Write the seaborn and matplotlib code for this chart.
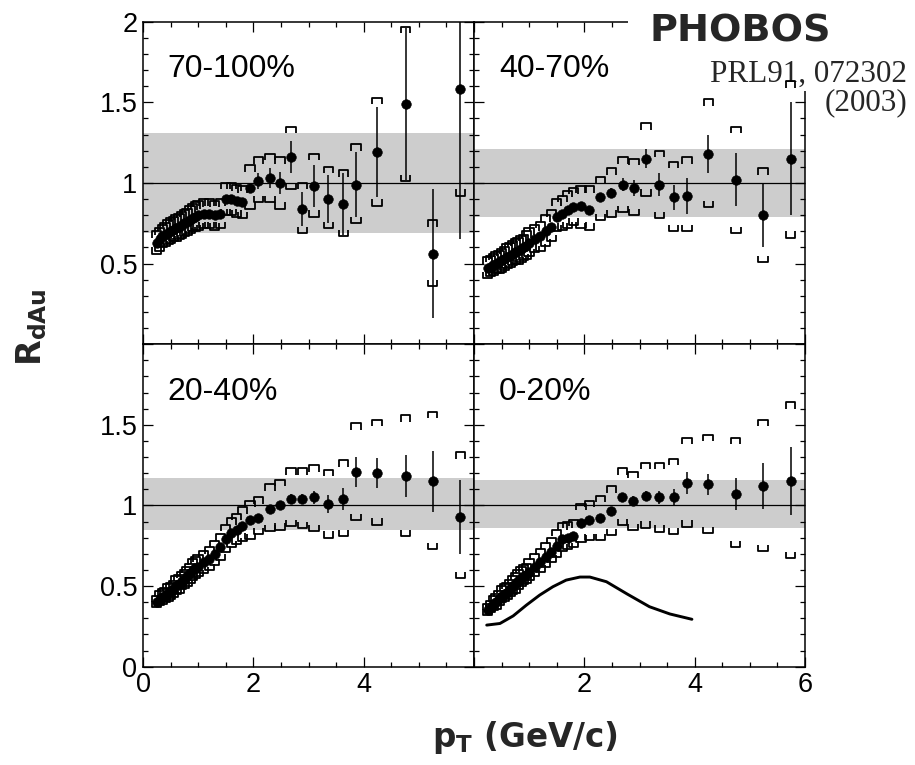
import numpy as np
import pandas as pd
import matplotlib
matplotlib.use("Agg")
import matplotlib.pyplot as plt
import seaborn as sns
from matplotlib.collections import LineCollection
from matplotlib.ticker import FixedLocator, FixedFormatter, MultipleLocator

# ---------------- data ----------------
centralities = ["70-100%", "40-70%", "20-40%", "0-20%"]

pt_low = [0.25, 0.30, 0.35, 0.40, 0.45, 0.50, 0.55, 0.60, 0.65, 0.70, 0.75, 0.80,
          0.85, 0.90, 0.95, 1.00, 1.10, 1.20, 1.30, 1.40, 1.50, 1.60, 1.70, 1.80]
stat_low = [0.01] * 24

# 70-100%
pt_a = pt_low + [1.94, 2.09, 2.30, 2.48, 2.68, 2.89, 3.10, 3.36, 3.63, 3.86, 4.24, 4.76, 5.25, 5.75]
val_a = [0.63, 0.65, 0.67, 0.68, 0.69, 0.70, 0.71, 0.72, 0.73, 0.74, 0.75, 0.76, 0.77, 0.78, 0.79, 0.80,
         0.81, 0.81, 0.80, 0.81, 0.90, 0.90, 0.89, 0.88,
         0.97, 1.01, 1.03, 1.00, 1.16, 0.84, 0.98, 0.90, 0.87, 0.99, 1.19, 1.49, 0.56, 1.58]
stat_a = stat_low + [0.03, 0.05, 0.06, 0.07, 0.10, 0.105, 0.13, 0.15, 0.19, 0.20, 0.28, 0.47, 0.40, 0.93]
hi_a = [0.70, 0.72, 0.74, 0.75, 0.77, 0.78, 0.79, 0.80, 0.81, 0.82, 0.83, 0.84, 0.86, 0.87, 0.88, 0.89,
        0.90, 0.90, 0.89, 0.90, 1.00, 1.00, 0.99, 0.98,
        1.11, 1.16, 1.18, 1.16, 1.35, 1.00, 1.18, 1.10, 1.08, 1.24, 1.53, 1.97, 0.77, 2.20]
lo_a = [0.56, 0.58, 0.60, 0.61, 0.62, 0.63, 0.64, 0.64, 0.65, 0.66, 0.67, 0.68, 0.69, 0.70, 0.70, 0.71,
        0.72, 0.72, 0.71, 0.72, 0.80, 0.80, 0.79, 0.78,
        0.84, 0.88, 0.88, 0.84, 0.96, 0.69, 0.79, 0.72, 0.67, 0.75, 0.86, 1.01, 0.36, 0.92]

# 40-70%
pt_b = pt_low + [1.94, 2.09, 2.29, 2.49, 2.70, 2.90, 3.12, 3.36, 3.62, 3.86, 4.25, 4.75, 5.24, 5.74]
val_b = [0.47, 0.48, 0.49, 0.50, 0.51, 0.52, 0.53, 0.54, 0.55, 0.56, 0.57, 0.58, 0.59, 0.60, 0.61, 0.63,
         0.65, 0.67, 0.70, 0.73, 0.79, 0.81, 0.83, 0.85,
         0.86, 0.83, 0.91, 0.94, 0.99, 0.97, 1.15, 0.99, 0.91, 0.92, 1.18, 1.02, 0.80, 1.15]
stat_b = stat_low + [0.02, 0.02, 0.03, 0.03, 0.04, 0.05, 0.06, 0.07, 0.08, 0.11, 0.12, 0.165, 0.20, 0.35]
hi_b = [0.54, 0.55, 0.56, 0.57, 0.58, 0.59, 0.60, 0.62, 0.63, 0.64, 0.65, 0.66, 0.67, 0.68, 0.70, 0.72,
        0.74, 0.76, 0.80, 0.83, 0.90, 0.92, 0.95, 0.97,
        0.98, 0.98, 1.04, 1.09, 1.16, 1.15, 1.37, 1.20, 1.13, 1.16, 1.52, 1.35, 1.09, 1.63]
lo_b = [0.41, 0.42, 0.43, 0.44, 0.44, 0.45, 0.46, 0.47, 0.48, 0.49, 0.50, 0.50, 0.51, 0.52, 0.53, 0.55,
        0.57, 0.58, 0.61, 0.64, 0.70, 0.71, 0.72, 0.74,
        0.72, 0.71, 0.77, 0.79, 0.82, 0.80, 0.92, 0.78, 0.70, 0.70, 0.85, 0.69, 0.51, 0.66]

# 20-40%
pt_c = pt_low + [1.94, 2.09, 2.30, 2.48, 2.68, 2.89, 3.10, 3.36, 3.63, 3.86, 4.24, 4.76, 5.25, 5.75]
val_c = [0.40, 0.42, 0.43, 0.44, 0.46, 0.47, 0.48, 0.50, 0.51, 0.53, 0.54, 0.56, 0.58, 0.60, 0.61, 0.62,
         0.65, 0.67, 0.70, 0.74, 0.79, 0.83, 0.85, 0.87,
         0.91, 0.92, 0.98, 1.00, 1.04, 1.04, 1.05, 1.01, 1.04, 1.21, 1.20, 1.18, 1.15, 0.93]
stat_c = stat_low + [0.02, 0.02, 0.02, 0.03, 0.03, 0.03, 0.04, 0.055, 0.07, 0.093, 0.093, 0.13, 0.19, 0.23]
hi_c = [0.44, 0.47, 0.48, 0.49, 0.51, 0.52, 0.53, 0.56, 0.57, 0.59, 0.60, 0.62, 0.64, 0.67, 0.68, 0.69,
        0.72, 0.74, 0.78, 0.82, 0.88, 0.92, 0.95, 0.99,
        1.03, 1.05, 1.13, 1.16, 1.23, 1.23, 1.25, 1.22, 1.28, 1.51, 1.53, 1.56, 1.58, 1.33]
lo_c = [0.37, 0.38, 0.39, 0.40, 0.41, 0.42, 0.43, 0.45, 0.46, 0.48, 0.49, 0.50, 0.52, 0.54, 0.55, 0.56,
        0.58, 0.60, 0.63, 0.66, 0.71, 0.74, 0.76, 0.78,
        0.79, 0.82, 0.84, 0.85, 0.87, 0.86, 0.84, 0.80, 0.81, 0.91, 0.88, 0.81, 0.73, 0.55]

# 0-20%
pt_d = pt_low + [1.94, 2.09, 2.29, 2.49, 2.69, 2.88, 3.11, 3.36, 3.62, 3.86, 4.24, 4.74, 5.24, 5.74]
val_d = [0.35, 0.37, 0.39, 0.40, 0.42, 0.44, 0.45, 0.46, 0.48, 0.50, 0.51, 0.53, 0.55, 0.56, 0.57, 0.59,
         0.62, 0.65, 0.68, 0.71, 0.75, 0.79, 0.80, 0.81,
         0.89, 0.91, 0.92, 0.965, 1.05, 1.03, 1.06, 1.05, 1.05, 1.14, 1.13, 1.07, 1.12, 1.15]
stat_d = stat_low + [0.02, 0.02, 0.02, 0.02, 0.025, 0.03, 0.03, 0.04, 0.05, 0.07, 0.067, 0.10, 0.145, 0.21]
hi_d = [0.39, 0.41, 0.44, 0.45, 0.47, 0.50, 0.51, 0.52, 0.54, 0.56, 0.58, 0.60, 0.62, 0.63, 0.64, 0.67,
        0.70, 0.73, 0.77, 0.80, 0.85, 0.89, 0.90, 0.91,
        1.01, 1.03, 1.06, 1.12, 1.23, 1.21, 1.265, 1.265, 1.29, 1.42, 1.44, 1.42, 1.53, 1.64]
lo_d = [0.32, 0.34, 0.35, 0.36, 0.38, 0.40, 0.41, 0.42, 0.44, 0.45, 0.46, 0.48, 0.50, 0.51, 0.52, 0.54,
        0.56, 0.59, 0.62, 0.65, 0.68, 0.72, 0.73, 0.74,
        0.775, 0.785, 0.785, 0.816, 0.878, 0.847, 0.862, 0.837, 0.823, 0.868, 0.827, 0.74, 0.717, 0.672]

# normalisation uncertainty bands (grey)
band_lo = [0.69, 0.79, 0.85, 0.86]
band_hi = [1.31, 1.21, 1.17, 1.16]

# theory curve (0-20%)
theory_pt = [0.23, 0.47, 0.71, 0.95, 1.19, 1.43, 1.67, 1.92, 2.10, 2.40, 2.78, 3.18, 3.55, 3.95]
theory_r = [0.258, 0.268, 0.315, 0.382, 0.444, 0.496, 0.537, 0.556, 0.556, 0.527, 0.45, 0.372, 0.327, 0.294]

# ticks / labels
xticks = [0, 2, 4, 6]
yticks = [0, 0.5, 1, 1.5, 2]
xlabels_left = ["0", "2", "4", ""]
xlabels_right = ["", "2", "4", "6"]
ylabels_top = ["", "0.5", "1", "1.5", "2"]
ylabels_bottom = ["0", "0.5", "1", "1.5", ""]

series = [
    (pt_a, val_a, stat_a, hi_a, lo_a),
    (pt_b, val_b, stat_b, hi_b, lo_b),
    (pt_c, val_c, stat_c, hi_c, lo_c),
    (pt_d, val_d, stat_d, hi_d, lo_d),
]

# ---------------- style ----------------
sns.set_theme(style="ticks")
plt.rcParams["font.family"] = ["Liberation Sans", "DejaVu Sans"]
plt.rcParams["mathtext.fontset"] = "custom"
plt.rcParams["mathtext.bf"] = "DejaVu Sans:bold"
plt.rcParams["mathtext.rm"] = "DejaVu Sans"
plt.rcParams["axes.linewidth"] = 1.1
plt.rcParams["axes.edgecolor"] = "black"

fig, axes = plt.subplots(2, 2, figsize=(9.15, 7.65), dpi=100)
fig.subplots_adjust(left=0.1563, right=0.8798, bottom=0.1285, top=0.9716, wspace=0, hspace=0)
axes = axes.ravel()

bw = 0.085   # bracket half width (data units)
bh = 0.04    # bracket leg height (data units)

for i, ax in enumerate(axes):
    pt, val, stat, hi, lo = series[i]
    df = pd.DataFrame({"pt": pt, "val": val, "stat": stat, "hi": hi, "lo": lo})

    ax.axhspan(band_lo[i], band_hi[i], color="#cdcdcd", lw=0, zorder=0.2)
    ax.axhline(1.0, color="black", lw=0.9, zorder=0.6)

    segs = []
    for x, h, l in zip(df.pt, df.hi, df.lo):
        segs.append([(x - bw, h - bh), (x - bw, h), (x + bw, h), (x + bw, h - bh)])
        segs.append([(x - bw, l + bh), (x - bw, l), (x + bw, l), (x + bw, l + bh)])
    ax.add_collection(LineCollection(segs, colors="black", linewidths=1.3, zorder=3))

    ax.vlines(df.pt, df.val - df.stat, df.val + df.stat, color="black", lw=1.1, zorder=4)
    sns.scatterplot(data=df, x="pt", y="val", ax=ax, color="black", s=48,
                    edgecolor="black", linewidth=0.4, zorder=5, legend=False)

    if i == 3:
        sns.lineplot(x=theory_pt, y=theory_r, ax=ax, color="black", lw=2.1, zorder=4)

    ax.set_xlim(0, 6)
    ax.set_ylim(0, 2)
    ax.set_xlabel("")
    ax.set_ylabel("")
    ax.xaxis.set_major_locator(FixedLocator(xticks))
    ax.xaxis.set_minor_locator(MultipleLocator(0.5))
    ax.yaxis.set_major_locator(FixedLocator(yticks))
    ax.yaxis.set_minor_locator(MultipleLocator(0.1))
    ax.tick_params(which="both", direction="in", top=True, right=True, bottom=True, left=True,
                   color="black", width=0.9, labelsize=19.5, labelcolor="black", pad=4)
    ax.tick_params(which="major", length=7.5)
    ax.tick_params(which="minor", length=3.5)

    row, col = divmod(i, 2)
    if row == 1:
        ax.xaxis.set_major_formatter(FixedFormatter(xlabels_left if col == 0 else xlabels_right))
    else:
        ax.tick_params(labelbottom=False)
    if col == 0:
        ax.yaxis.set_major_formatter(FixedFormatter(ylabels_top if row == 0 else ylabels_bottom))
    else:
        ax.tick_params(labelleft=False)
    for sp in ax.spines.values():
        sp.set_visible(True)
        sp.set_color("black")
        sp.set_linewidth(1.1)

    ax.text(0.45, 1.655, centralities[i], fontsize=23, color="black", ha="left", va="baseline",
            zorder=6)

# annotation boxes (white background hides the frame corner)
axb = axes[1]
axb.text(740 / 915, 1 - 42 / 765, "PHOBOS", transform=fig.transFigure, fontsize=27.5,
         fontweight="bold", family="DejaVu Sans", ha="center", va="baseline", clip_on=False,
         zorder=2.6, bbox=dict(boxstyle="square,pad=0.55", facecolor="white", edgecolor="none"))
axb.text(907 / 915, 1 - 82 / 765, "PRL91, 072302", transform=fig.transFigure, fontsize=22.4,
         family="Liberation Serif", ha="right", va="baseline", clip_on=False, zorder=2.7,
         bbox=dict(boxstyle="square,pad=0.08", facecolor="white", edgecolor="none"))
fig.text(907 / 915, 1 - 110 / 765, "(2003)", fontsize=22.4, family="Liberation Serif",
         ha="right", va="baseline")

fig.text(32 / 915, 1 - 327 / 765, r"$\mathbf{R}_{\mathbf{dAu}}$", rotation=90, fontsize=24,
         ha="center", va="center")
fig.text(525 / 915, 1 - 747 / 765, r"$\mathbf{p}_{\mathbf{T}}$ (GeV/c)", fontsize=23.5,
         fontweight="bold", family="DejaVu Sans", ha="center", va="baseline")

fig.savefig("out.png", dpi=100)
